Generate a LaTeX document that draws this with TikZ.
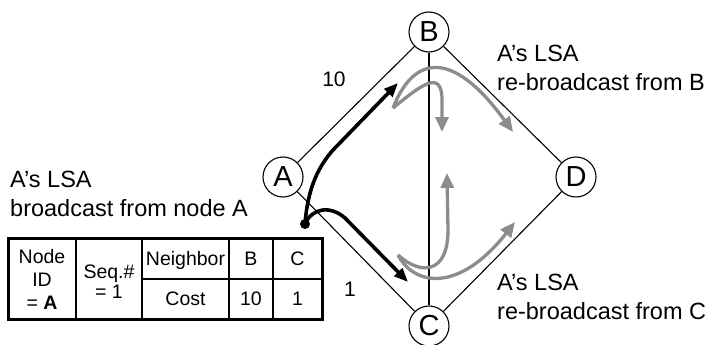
\documentclass[tikz,border=0pt]{standalone}
\usepackage{fontspec}
\setmainfont{Liberation Sans}
\usepackage{tikz}
\usetikzlibrary{arrows.meta}

\definecolor{floodGray}{RGB}{140,140,140}

\begin{document}
\begin{tikzpicture}[x=1pt, y=-1pt,
      >={Triangle[length=14pt,width=11pt]},
      routerNode/.style={
        draw=black, line width=1.1pt, circle, fill=white,
        minimum size=40pt, inner sep=0pt,
        font=\fontsize{29}{30}\selectfont
      },
      link/.style={-, line width=1.1pt, draw=black},
      costLabel/.style={font=\fontsize{21}{24}\selectfont, inner sep=0pt},
      lsaLabel/.style={anchor=west, align=left, inner sep=0pt,
        font=\fontsize{23.5}{28.5}\selectfont},
      tableText/.style={align=center, inner sep=0pt,
        font=\fontsize{19.5}{23}\selectfont},
      tableLine/.style={line width=1.2pt},
      tableFrame/.style={line width=3pt},
      sendArrow/.style={->, line width=3.6pt, draw=black, line join=round},
      floodArrow/.style={-{Triangle[length=15pt,width=13pt]}, line width=3.3pt,
        draw=floodGray, line join=round}
    ]

      \useasboundingbox (0,0) rectangle (710,345);

      % ---------- Routers ----------
      \node[routerNode] (A) at (283,177) {A};
      \node[routerNode] (B) at (429,32)  {B};
      \node[routerNode] (C) at (429,326) {C};
      \node[routerNode] (D) at (576,177) {D};

      % ---------- Links ----------
      \draw[link] (A) -- (B);
      \draw[link] (A) -- (C);
      \draw[link] (B) -- (D);
      \draw[link] (C) -- (D);
      \draw[link] (B) -- (C);

      \node[costLabel] (costAB) at (334,79)  {10};
      \node[costLabel] (costAC) at (350,289) {1};

      % ---------- LSA labels ----------
      \node[lsaLabel] (lsaA) at (10,194)  {A’s LSA\\broadcast from node A};
      \node[lsaLabel] (lsaB) at (497,68)  {A’s LSA\\re-broadcast from B};
      \node[lsaLabel] (lsaC) at (497,297) {A’s LSA\\re-broadcast from C};

      % ---------- LSA table ----------
      \foreach \x in {76,142,229,273}
        \draw[tableLine] (\x,238) -- (\x,319);
      \draw[tableLine] (142,279) -- (322,279);
      \draw[tableFrame] (8,238) rectangle (322,319);

      \node[tableText] (cellId)   at (42,279)    {Node\\ID\\= \textbf{A}};
      \node[tableText] (cellSeq)  at (109,282)   {Seq.\#\\[-3pt]= 1};
      \node[tableText] (cellNbr)  at (185.5,260) {Neighbor};
      \node[tableText] (cellCost) at (185.5,299) {Cost};
      \node[tableText] (cellB)    at (251,259)   {B};
      \node[tableText] (cellC)    at (297.5,259) {C};
      \node[tableText] (cell10)   at (251,299)   {10};
      \node[tableText] (cell1)    at (297.5,299) {1};

      % ---------- Broadcast from A ----------
      \coordinate (srcA) at (305,224);
      \coordinate (tipB) at (398,83);
      \coordinate (tipC) at (408,282);
      \fill (srcA) circle (5pt);
      \draw[sendArrow] (srcA) .. controls (308,185) and (320,165) .. (333,150) -- (tipB);
      \draw[sendArrow] (srcA) .. controls (312,208) and (330,205) .. (345,218) -- (tipC);

      % ---------- Re-broadcast from B and C ----------
      \coordinate (fromB) at (393,108);
      \coordinate (toD1)  at (513,132);
      \coordinate (toC1)  at (442,132);
      \draw[floodArrow] (fromB) .. controls (415,52) and (455,52) .. (toD1);
      \draw[floodArrow] (fromB) .. controls (420,86) and (442,68) .. (442,100) -- (toC1);

      \coordinate (fromC) at (398,255);
      \coordinate (toB1)  at (447,173);
      \coordinate (toD2)  at (515,222);
      \draw[floodArrow] (fromC) .. controls (420,275) and (448,275) .. (448,230) -- (toB1);
      \draw[floodArrow] (fromC) .. controls (415,287) and (460,292) .. (toD2);

    \end{tikzpicture}
\end{document}
